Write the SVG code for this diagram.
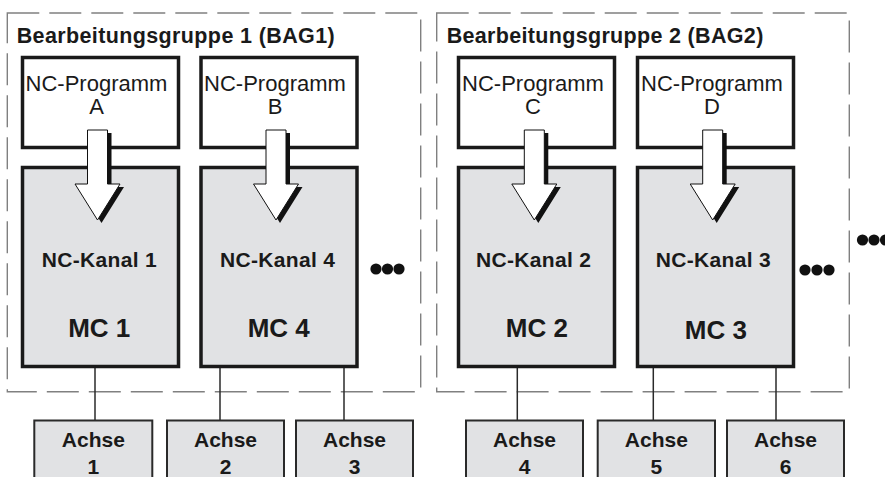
<svg xmlns="http://www.w3.org/2000/svg" width="885" height="477" viewBox="0 0 885 477">
<style>
.grp{fill:none;stroke:#808080;stroke-width:1.4;stroke-dasharray:32 10}
.prog{fill:#fff;stroke:#1a1a1a;stroke-width:3.5}
.chan{fill:#e1e2e4;stroke:#1a1a1a;stroke-width:3.5}
.axis{fill:#e1e2e4;stroke:#2a2a2a;stroke-width:2}
.t{font-family:"Liberation Sans",Arial,sans-serif;fill:#1a1a1a;text-anchor:middle}
.title{font-family:"Liberation Sans",Arial,sans-serif;fill:#1a1a1a;font-weight:bold;font-size:21.5px}
.pt{font-size:22px}
.kt{font-size:21px;font-weight:bold}
.mc{font-size:26px;font-weight:bold}
.at{font-size:21px;font-weight:bold}
.con{stroke:#2a2a2a;stroke-width:1.5;fill:none}
.dot{fill:#111}
</style>
<defs>
<g id="arrow">
<polygon points="-10,0 10,0 10,54 22.5,54 0,90 -22.5,54 -10,54" transform="translate(4,3)" fill="#111"/>
<polygon points="-10,0 10,0 10,54 22.5,54 0,90 -22.5,54 -10,54" fill="#fff" stroke="#111" stroke-width="1"/>
</g>
</defs>
<g id="group1">
<rect class="grp" x="7.3" y="13" width="413.4" height="378.7"/>
<text class="title" x="16.7" y="43.3" textLength="318" lengthAdjust="spacing">Bearbeitungsgruppe 1 (BAG1)</text>
</g>
<g id="group2">
<rect class="grp" x="436.7" y="13" width="412.6" height="378.7"/>
<text class="title" x="446.7" y="43.3" textLength="316.6" lengthAdjust="spacing">Bearbeitungsgruppe 2 (BAG2)</text>
</g>
<g id="connectors">
<line class="con" x1="95" y1="368" x2="95" y2="420"/>
<line class="con" x1="220" y1="368" x2="220" y2="420"/>
<line class="con" x1="344" y1="368" x2="344" y2="420"/>
<line class="con" x1="517.3" y1="368" x2="517.3" y2="420"/>
<line class="con" x1="653.3" y1="368" x2="653.3" y2="420"/>
<line class="con" x1="776" y1="368" x2="776" y2="420"/>
</g>
<g id="progA">
<rect class="prog" x="22.5" y="57.5" width="156" height="90"/>
<text class="t pt" x="96.5" y="91">NC-Programm</text>
<text class="t pt" x="96.5" y="114">A</text>
</g>
<g id="progB">
<rect class="prog" x="201" y="57.5" width="156" height="90"/>
<text class="t pt" x="275" y="91">NC-Programm</text>
<text class="t pt" x="275" y="114">B</text>
</g>
<g id="progC">
<rect class="prog" x="458.5" y="57.5" width="156" height="90"/>
<text class="t pt" x="533" y="91">NC-Programm</text>
<text class="t pt" x="533" y="114">C</text>
</g>
<g id="progD">
<rect class="prog" x="637.5" y="57.5" width="156" height="90"/>
<text class="t pt" x="712" y="91">NC-Programm</text>
<text class="t pt" x="712" y="114">D</text>
</g>
<g id="chan1">
<rect class="chan" x="22.5" y="167.5" width="156" height="199"/>
<text class="t kt" x="99.2" y="267" textLength="115" lengthAdjust="spacing">NC-Kanal 1</text>
<text class="t mc" x="99.2" y="337">MC 1</text>
</g>
<g id="chan4">
<rect class="chan" x="201" y="167.5" width="156" height="199"/>
<text class="t kt" x="277.5" y="267" textLength="115" lengthAdjust="spacing">NC-Kanal 4</text>
<text class="t mc" x="278.7" y="337">MC 4</text>
</g>
<g id="chan2">
<rect class="chan" x="458.5" y="167.5" width="156" height="199"/>
<text class="t kt" x="533.5" y="267" textLength="115" lengthAdjust="spacing">NC-Kanal 2</text>
<text class="t mc" x="536.8" y="337">MC 2</text>
</g>
<g id="chan3">
<rect class="chan" x="637.5" y="167.5" width="156" height="199"/>
<text class="t kt" x="713.2" y="267" textLength="115" lengthAdjust="spacing">NC-Kanal 3</text>
<text class="t mc" x="715.8" y="338.5">MC 3</text>
</g>
<g id="arrows">
<use href="#arrow" transform="translate(97.5,130)"/>
<use href="#arrow" transform="translate(276,130)"/>
<use href="#arrow" transform="translate(534.3,130)"/>
<use href="#arrow" transform="translate(712.7,130)"/>
</g>
<g id="dots">
<circle class="dot" cx="376" cy="269" r="5.6"/>
<circle class="dot" cx="387.5" cy="269" r="5.6"/>
<circle class="dot" cx="399" cy="269" r="5.6"/>
<circle class="dot" cx="805" cy="270" r="5.6"/>
<circle class="dot" cx="817" cy="270" r="5.6"/>
<circle class="dot" cx="829" cy="270" r="5.6"/>
<circle class="dot" cx="862.5" cy="240" r="5.6"/>
<circle class="dot" cx="874" cy="240" r="5.6"/>
<circle class="dot" cx="885.5" cy="240" r="5.6"/>
</g>
<g id="axis1">
<rect class="axis" x="34.3" y="420.5" width="118" height="70"/>
<text class="t at" x="93.3" y="446.7">Achse</text>
<text class="t at" x="93.3" y="474">1</text>
</g>
<g id="axis2">
<rect class="axis" x="167" y="420.5" width="117" height="70"/>
<text class="t at" x="225.5" y="446.7">Achse</text>
<text class="t at" x="225.5" y="474">2</text>
</g>
<g id="axis3">
<rect class="axis" x="296" y="420.5" width="117" height="70"/>
<text class="t at" x="354.5" y="446.7">Achse</text>
<text class="t at" x="354.5" y="474">3</text>
</g>
<g id="axis4">
<rect class="axis" x="466" y="420.5" width="117" height="70"/>
<text class="t at" x="524.5" y="446.7">Achse</text>
<text class="t at" x="524.5" y="474">4</text>
</g>
<g id="axis5">
<rect class="axis" x="597.7" y="420.5" width="117.3" height="70"/>
<text class="t at" x="656.3" y="446.7">Achse</text>
<text class="t at" x="656.3" y="474">5</text>
</g>
<g id="axis6">
<rect class="axis" x="727" y="420.5" width="117" height="70"/>
<text class="t at" x="785.5" y="446.7">Achse</text>
<text class="t at" x="785.5" y="474">6</text>
</g>
</svg>
